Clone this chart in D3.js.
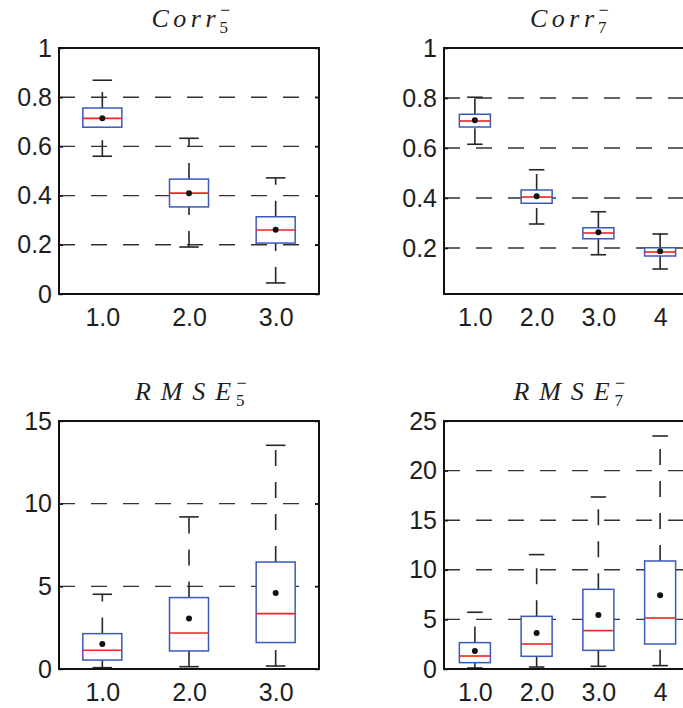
<!DOCTYPE html>
<html>
<head>
<meta charset="utf-8">
<script src="https://cdn.jsdelivr.net/npm/d3@7"></script>
<style>
  html, body { margin: 0; padding: 0; background: #fff; }
  svg { display: block; }
</style>
</head>
<body>
<svg id="chart" width="683" height="708"></svg>
<script>
// ---------- DATA ----------
const categories5 = ["1.0", "2.0", "3.0"];
const categories7 = ["1.0", "2.0", "3.0", "4"];

const corr5Lower  = [0.560, 0.191, 0.045];
const corr5Q1     = [0.678, 0.354, 0.207];
const corr5Median = [0.714, 0.410, 0.260];
const corr5Q3     = [0.756, 0.467, 0.314];
const corr5Upper  = [0.869, 0.633, 0.472];
const corr5Mean   = [0.714, 0.410, 0.261];

const corr7Lower  = [0.615, 0.296, 0.173, 0.116];
const corr7Q1     = [0.684, 0.379, 0.237, 0.168];
const corr7Median = [0.708, 0.404, 0.260, 0.184];
const corr7Q3     = [0.735, 0.432, 0.281, 0.201];
const corr7Upper  = [0.803, 0.513, 0.345, 0.256];
const corr7Mean   = [0.711, 0.407, 0.263, 0.187];

const rmse5Lower  = [0.08, 0.14, 0.18];
const rmse5Q1     = [0.54, 1.09, 1.60];
const rmse5Median = [1.13, 2.18, 3.35];
const rmse5Q3     = [2.14, 4.32, 6.47];
const rmse5Upper  = [4.52, 9.20, 13.53];
const rmse5Mean   = [1.51, 3.05, 4.60];

const rmse7Lower  = [0.10, 0.20, 0.27, 0.34];
const rmse7Q1     = [0.64, 1.28, 1.88, 2.52];
const rmse7Median = [1.31, 2.52, 3.87, 5.14];
const rmse7Q3     = [2.66, 5.31, 8.03, 10.89];
const rmse7Upper  = [5.72, 11.53, 17.34, 23.49];
const rmse7Mean   = [1.81, 3.63, 5.44, 7.43];

const corr5Ticks = [0, 0.2, 0.4, 0.6, 0.8, 1];
const corr7Ticks = [0.2, 0.4, 0.6, 0.8, 1];
const rmse5Ticks = [0, 5, 10, 15];
const rmse7Ticks = [0, 5, 10, 15, 20, 25];
const corr5Grid = [0.2, 0.4, 0.6, 0.8];
const corr7Grid = [0.2, 0.4, 0.6, 0.8];
const rmse5Grid = [5, 10];
const rmse7Grid = [5, 10, 15, 20];

// ---------- BUILD ----------
function stats(cats, lo, q1, med, q3, up, mean) {
  return cats.map((c, i) => ({cat: c, idx: i + 1, lo: lo[i], q1: q1[i], med: med[i], q3: q3[i], up: up[i], mean: mean[i]}));
}

const panels = [
  {name: "Corr", sub: "5", cats: categories5,
   data: stats(categories5, corr5Lower, corr5Q1, corr5Median, corr5Q3, corr5Upper, corr5Mean),
   ydom: [0, 1], ticks: corr5Ticks, grid: corr5Grid, fmt: d => d === 0 || d === 1 ? String(d) : d.toFixed(1),
   x0: 59, x1: 319, y0: 48, y1: 294, boxW: 39, titleW: 64, gap: 4},
  {name: "Corr", sub: "7", cats: categories7,
   data: stats(categories7, corr7Lower, corr7Q1, corr7Median, corr7Q3, corr7Upper, corr7Mean),
   ydom: [0.016, 1], ticks: corr7Ticks, grid: corr7Grid, fmt: d => d === 1 ? "1" : d.toFixed(1),
   x0: 444, x1: 691, y0: 48, y1: 294, boxW: 31, titleW: 64, gap: 4},
  {name: "RMSE", sub: "5", cats: categories5,
   data: stats(categories5, rmse5Lower, rmse5Q1, rmse5Median, rmse5Q3, rmse5Upper, rmse5Mean),
   ydom: [0, 15], ticks: rmse5Ticks, grid: rmse5Grid, fmt: d => String(d),
   x0: 59, x1: 319, y0: 421, y1: 669, boxW: 39, titleW: 96, gap: 5},
  {name: "RMSE", sub: "7", cats: categories7,
   data: stats(categories7, rmse7Lower, rmse7Q1, rmse7Median, rmse7Q3, rmse7Upper, rmse7Mean),
   ydom: [0, 25], ticks: rmse7Ticks, grid: rmse7Grid, fmt: d => String(d),
   x0: 444, x1: 691, y0: 421, y1: 669, boxW: 31, titleW: 96, gap: 5}
];

const svg = d3.select("#chart");
const BLUE = "#3a58bb", RED = "#f02424", INK = "#1e1e1e";
const SANS = "'Liberation Sans', Arial, Helvetica, sans-serif";
const SERIF = "'Liberation Serif', 'Times New Roman', serif";

panels.forEach(p => {
  const x = d3.scaleLinear().domain([0.5, p.cats.length + 0.5]).range([p.x0, p.x1]);
  const y = d3.scaleLinear().domain(p.ydom).range([p.y1, p.y0]);
  const g = svg.append("g");

  // grid
  g.selectAll("line.grid").data(p.grid).enter().append("line")
    .attr("x1", p.x0).attr("x2", p.x1)
    .attr("y1", d => y(d)).attr("y2", d => y(d))
    .attr("stroke", "#333").attr("stroke-width", 1.4)
    .attr("stroke-dasharray", "16,16");

  // y axis (left, ticks inside)
  const ya = g.append("g").attr("transform", `translate(${p.x0},0)`)
    .call(d3.axisLeft(y).tickValues(p.ticks).tickFormat(p.fmt).tickSizeInner(-4).tickSizeOuter(0).tickPadding(7));
  ya.select(".domain").remove();
  ya.selectAll(".tick line").attr("stroke", "#111").attr("stroke-width", 1.5);
  ya.selectAll("text").attr("font-family", SANS).attr("font-size", 25).attr("fill", INK);

  // right ticks inside
  const yr = g.append("g").attr("transform", `translate(${p.x1},0)`)
    .call(d3.axisRight(y).tickValues(p.ticks).tickFormat("").tickSizeInner(-4).tickSizeOuter(0));
  yr.select(".domain").remove();
  yr.selectAll(".tick line").attr("stroke", "#111").attr("stroke-width", 1.5);

  // x axis labels
  const xa = g.append("g").attr("transform", `translate(0,${p.y1})`)
    .call(d3.axisBottom(x).tickValues(p.data.map(d => d.idx)).tickFormat((d, i) => p.cats[i]).tickSize(0).tickPadding(14));
  xa.select(".domain").remove();
  xa.selectAll("text").attr("font-family", SANS).attr("font-size", 25).attr("fill", INK);

  // boxes
  const b = g.selectAll("g.box").data(p.data).enter().append("g");
  const hw = p.boxW / 2, cw = p.boxW / 4;
  const WH = "#262626";
  b.append("line").attr("x1", d => x(d.idx)).attr("x2", d => x(d.idx))
    .attr("y1", d => y(d.q3)).attr("y2", d => y(d.up))
    .attr("stroke", WH).attr("stroke-width", 1.6).attr("stroke-dasharray", "16,16");
  b.append("line").attr("x1", d => x(d.idx)).attr("x2", d => x(d.idx))
    .attr("y1", d => y(d.lo)).attr("y2", d => y(d.q1))
    .attr("stroke", WH).attr("stroke-width", 1.6).attr("stroke-dasharray", "16,16");
  b.append("line").attr("x1", d => x(d.idx) - cw).attr("x2", d => x(d.idx) + cw)
    .attr("y1", d => y(d.up)).attr("y2", d => y(d.up))
    .attr("stroke", WH).attr("stroke-width", 1.6);
  b.append("line").attr("x1", d => x(d.idx) - cw).attr("x2", d => x(d.idx) + cw)
    .attr("y1", d => y(d.lo)).attr("y2", d => y(d.lo))
    .attr("stroke", WH).attr("stroke-width", 1.6);
  b.append("rect").attr("x", d => x(d.idx) - hw).attr("width", p.boxW)
    .attr("y", d => y(d.q3)).attr("height", d => y(d.q1) - y(d.q3))
    .attr("fill", "#fff").attr("stroke", BLUE).attr("stroke-width", 1.5);
  b.append("line").attr("x1", d => x(d.idx) - hw).attr("x2", d => x(d.idx) + hw)
    .attr("y1", d => y(d.med)).attr("y2", d => y(d.med))
    .attr("stroke", RED).attr("stroke-width", 1.6);
  b.append("circle").attr("cx", d => x(d.idx)).attr("cy", d => y(d.mean))
    .attr("r", 3).attr("fill", "#111");

  // frame
  g.append("rect").attr("x", p.x0).attr("y", p.y0)
    .attr("width", p.x1 - p.x0).attr("height", p.y1 - p.y0)
    .attr("fill", "none").attr("stroke", "#111").attr("stroke-width", 2);

  // title: one text element; main letters spaced like math italic, then sub/superscript
  const cx = (p.x0 + p.x1) / 2 + 3;
  const subW = 13;
  const startX = cx - (p.titleW + p.gap + subW) / 2;
  const baseY = p.y0 - 21;
  const probe = svg.append("text").attr("font-family", SERIF).attr("font-style", "italic")
    .attr("font-size", 26).text(p.name);
  const natural = probe.node().getComputedTextLength();
  probe.remove();
  const n = p.name.length;
  const ls = (p.titleW - natural) / (n - 1);

  const t = g.append("text").attr("x", startX).attr("y", baseY)
    .attr("font-family", SERIF).attr("fill", INK);
  t.append("tspan").attr("font-style", "italic").attr("font-size", 26)
    .attr("letter-spacing", ls).text(p.name.slice(0, -1));
  t.append("tspan").attr("font-style", "italic").attr("font-size", 26)
    .attr("letter-spacing", 0).text(p.name.slice(-1));
  t.append("tspan").attr("font-size", 17)
    .attr("dx", p.gap).attr("dy", 6).text(p.sub);
  t.append("tspan").attr("font-size", 18)
    .attr("dx", -8).attr("dy", -17).text("\u2212");
});
</script>
</body>
</html>
